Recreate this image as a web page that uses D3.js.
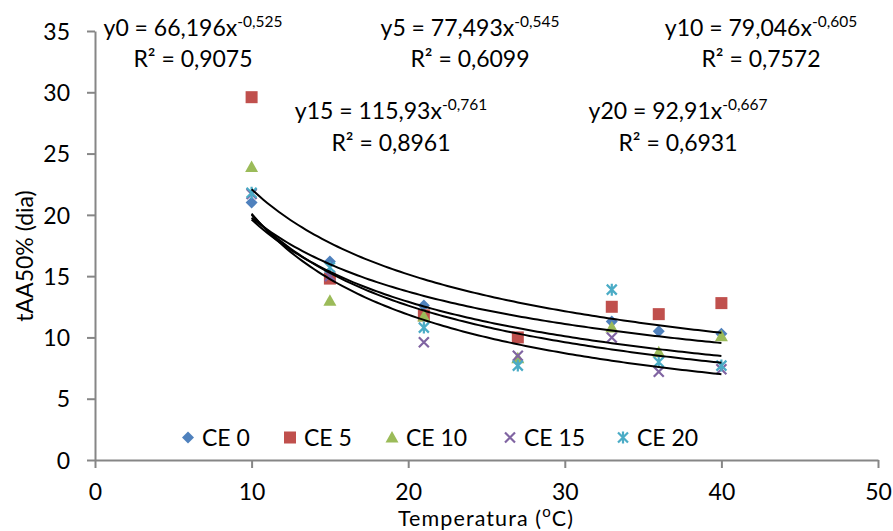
<!DOCTYPE html>
<html>
<head>
<meta charset="utf-8">
<script src="https://cdn.jsdelivr.net/npm/d3@7"></script>
<style>
  html, body { margin: 0; padding: 0; background: #fff; }
  svg { display: block; font-family: Lato, "Open Sans", sans-serif; }
</style>
</head>
<body>
<svg id="chart" width="893" height="531"></svg>
<script>
// Temperatures (ºC) at which tAA50% was measured
const temps = [10, 15, 21, 27, 33, 36, 40];

// tAA50% (days) for each CE level; null = no point
const ce0  = [21.0, 16.2, 12.6, null, 11.3, 10.5, 10.3];
const ce5  = [29.6, 14.8, 11.8, 10.0, 12.5, 11.9, 12.8];
const ce10 = [23.9, 13.0, 11.7, 8.3, 10.8, 8.8, 10.1];
const ce15 = [21.7, 15.0, 9.6, 8.5, 10.0, 7.2, 7.4];
const ce20 = [21.8, 15.7, 10.8, 7.7, 13.9, 8.0, 7.7];

const seriesNames = ["CE 0", "CE 5", "CE 10", "CE 15", "CE 20"];

// Power trendlines y = a·x^b fitted to each series
const fitNames = ["y0", "y5", "y10", "y15", "y20"];
const fitA  = [66.196, 77.493, 79.046, 115.93, 92.91];
const fitB  = [-0.525, -0.545, -0.605, -0.761, -0.667];
const fitR2 = ["0,9075", "0,6099", "0,7572", "0,8961", "0,6931"];
const fitRange = [10, 40];

// Axis ticks
const xTicks = [0, 10, 20, 30, 40, 50];
const yTicks = [0, 5, 10, 15, 20, 25, 30, 35];

const xTitle = "Temperatura (";
const yTitle = "tAA50% (dia)";

// ---- styling / layout ----
const colors  = ["#4F81BD", "#C0504D", "#9BBB59", "#8064A2", "#4BACC6"];
const shapes  = ["diamond", "square", "triangle", "cross", "star"];
const axisCol = "#868686";
const fs = 23;
const supFs = 15.5;

// centre x and baselines for each equation block
const eqPos = [
  { cx: 193, b1: 36, b2: 66.5 },
  { cx: 470, b1: 36, b2: 66.5 },
  { cx: 761, b1: 36, b2: 66.5 },
  { cx: 391, b1: 119, b2: 150.5 },
  { cx: 678, b1: 119, b2: 150.5 }
];

const svg = d3.select("#chart");
const x = d3.scaleLinear().domain([0, 50]).range([95, 878]);
const y = d3.scaleLinear().domain([0, 35]).range([460, 31]);

// ---- axes ----
const yAxis = svg.append("g")
  .attr("transform", `translate(${x(0)},0)`)
  .call(d3.axisLeft(y).tickValues(yTicks).tickSize(8).tickSizeOuter(0).tickPadding(17));
const xAxis = svg.append("g")
  .attr("transform", `translate(0,${y(0)})`)
  .call(d3.axisBottom(x).tickValues(xTicks).tickSize(8).tickSizeOuter(0));

[yAxis, xAxis].forEach(g => {
  g.select(".domain").attr("stroke", axisCol).attr("stroke-width", 2);
  g.selectAll(".tick line").attr("stroke", axisCol).attr("stroke-width", 2);
  g.selectAll(".tick text")
    .attr("fill", "#000")
    .style("font-family", "Lato, 'Open Sans', sans-serif")
    .style("font-size", fs + "px");
});
yAxis.selectAll(".tick text").attr("dy", "0.36em");
xAxis.selectAll(".tick text").attr("y", 40).attr("dy", 0);

// axis titles
const xt = svg.append("text")
  .attr("x", 486)
  .attr("y", 525.5)
  .attr("text-anchor", "middle")
  .style("font-size", "21.5px")
  .style("letter-spacing", "1.1px");
xt.append("tspan").text(xTitle);
xt.append("tspan").attr("dy", -9).style("font-size", "15px").text("o");
xt.append("tspan").attr("dy", 9).text("C)");

svg.append("text")
  .attr("transform", `translate(33,${256}) rotate(-90)`)
  .attr("text-anchor", "middle")
  .style("font-size", fs + "px")
  .text(yTitle);

// ---- markers ----
function drawMarker(g, shape, color, cx, cy) {
  const s = 6;
  if (shape === "diamond") {
    g.append("path")
      .attr("d", `M${cx},${cy - s}L${cx + s},${cy}L${cx},${cy + s}L${cx - s},${cy}Z`)
      .attr("fill", color);
  } else if (shape === "square") {
    g.append("rect")
      .attr("x", cx - 6).attr("y", cy - 6).attr("width", 12).attr("height", 12)
      .attr("fill", color);
  } else if (shape === "triangle") {
    g.append("path")
      .attr("d", `M${cx},${cy - 6.5}L${cx + 6.5},${cy + 5}L${cx - 6.5},${cy + 5}Z`)
      .attr("fill", color);
  } else if (shape === "cross") {
    g.append("path")
      .attr("d", `M${cx - 5},${cy - 5}L${cx + 5},${cy + 5}M${cx - 5},${cy + 5}L${cx + 5},${cy - 5}`)
      .attr("stroke", color).attr("stroke-width", 2.2).attr("fill", "none");
  } else if (shape === "star") {
    g.append("path")
      .attr("d", `M${cx - 5},${cy - 5}L${cx + 5},${cy + 5}M${cx - 5},${cy + 5}L${cx + 5},${cy - 5}M${cx},${cy - 6}L${cx},${cy + 6}`)
      .attr("stroke", color).attr("stroke-width", 2.2).attr("fill", "none");
  }
}

const allSeries = [ce0, ce5, ce10, ce15, ce20];
const markers = svg.append("g");
allSeries.forEach((vals, i) => {
  vals.forEach((v, j) => {
    if (v == null) return;
    drawMarker(markers, shapes[i], colors[i], x(temps[j]), y(v));
  });
});

// ---- trendlines ----
const line = d3.line().x(d => x(d[0])).y(d => y(d[1])).curve(d3.curveLinear);
const trend = svg.append("g");
fitA.forEach((a, i) => {
  const pts = d3.range(fitRange[0], fitRange[1] + 0.001, 0.25).map(t => [t, a * Math.pow(t, fitB[i])]);
  trend.append("path")
    .attr("d", line(pts))
    .attr("fill", "none")
    .attr("stroke", "#000")
    .attr("stroke-width", 2);
});

// ---- equation labels ----
const fmt = v => String(v).replace(".", ",");
fitA.forEach((a, i) => {
  const p = eqPos[i];
  const t = svg.append("text")
    .attr("x", p.cx).attr("y", p.b1)
    .attr("text-anchor", "middle")
    .style("font-size", fs + "px");
  t.append("tspan").text(`${fitNames[i]} = ${fmt(a)}x`);
  t.append("tspan").attr("dy", -9).style("font-size", supFs + "px").text(fmt(fitB[i]));
  svg.append("text")
    .attr("x", p.cx).attr("y", p.b2)
    .attr("text-anchor", "middle")
    .style("font-size", fs + "px")
    .text(`R² = ${fitR2[i]}`);
});

// ---- legend ----
const legendX = [188, 290, 392, 510, 623];
const legend = svg.append("g");
seriesNames.forEach((name, i) => {
  drawMarker(legend, shapes[i], colors[i], legendX[i], 437.5);
  legend.append("text")
    .attr("x", legendX[i] + 14)
    .attr("y", 445.5)
    .style("font-size", fs + "px")
    .text(name);
});
</script>
</body>
</html>
